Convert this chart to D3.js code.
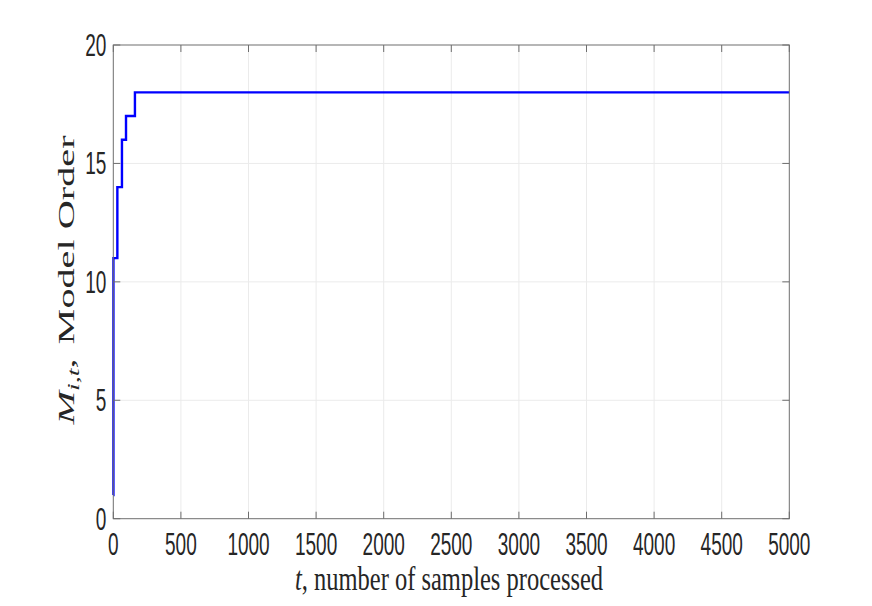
<!DOCTYPE html>
<html><head><meta charset="utf-8">
<script src="https://cdn.jsdelivr.net/npm/d3@7"></script>
<style>body{margin:0;background:#fff}svg{display:block}</style>
</head><body>
<script>
// Data
const tValues = [0, 1, 30, 64, 94, 160, 5000];
const orderValues = [1, 11, 14, 16, 17, 18, 18];
const xTicks = [0,500,1000,1500,2000,2500,3000,3500,4000,4500,5000];
const yTicks = [0,5,10,15,20];

const W = 872, H = 606;
const L = 113.3, R = 789.3, T = 45, B = 518.7;
const svg = d3.select("body").append("svg").attr("width", W).attr("height", H);
const x = d3.scaleLinear().domain([0,5000]).range([L,R]);
const y = d3.scaleLinear().domain([0,20]).range([B,T]);
const sY = 1.65;

// grid
svg.append("g").selectAll("line").data(xTicks.slice(1,-1)).join("line")
  .attr("x1", d=>x(d)).attr("x2", d=>x(d)).attr("y1", T).attr("y2", B)
  .attr("stroke", "#ebebeb").attr("stroke-width", 1);
svg.append("g").selectAll("line").data(yTicks.slice(1,-1)).join("line")
  .attr("y1", d=>y(d)).attr("y2", d=>y(d)).attr("x1", L).attr("x2", R)
  .attr("stroke", "#ebebeb").attr("stroke-width", 1);

// data line
const line = d3.line().x((d,i)=>x(tValues[i])).y(d=>y(d)).curve(d3.curveStepAfter);
svg.append("path").datum(orderValues).attr("d", line)
  .attr("fill","none").attr("stroke","#0000ff").attr("stroke-width",2.4);

// box and ticks
const ax = svg.append("g").attr("stroke","#6e6e6e").attr("stroke-width",1).attr("fill","none");
ax.append("rect").attr("x",L).attr("y",T).attr("width",R-L).attr("height",B-T);
const tl = 7;
xTicks.forEach(d=>{
  ax.append("line").attr("x1",x(d)).attr("x2",x(d)).attr("y1",B).attr("y2",B-tl);
  ax.append("line").attr("x1",x(d)).attr("x2",x(d)).attr("y1",T).attr("y2",T+tl);
});
yTicks.forEach(d=>{
  ax.append("line").attr("y1",y(d)).attr("y2",y(d)).attr("x1",L).attr("x2",L+tl);
  ax.append("line").attr("y1",y(d)).attr("y2",y(d)).attr("x1",R).attr("x2",R-tl);
});

// tick labels
const tickFont = "'Liberation Sans', Arial, sans-serif";
svg.append("g").selectAll("text").data(xTicks).join("text")
  .attr("transform", d=>`translate(${x(d)},555) scale(1,${sY})`)
  .attr("text-anchor","middle").attr("font-family",tickFont).attr("font-size",19)
  .attr("fill","#262626").text(d=>d);
svg.append("g").selectAll("text").data(yTicks).join("text")
  .attr("transform", d=>`translate(${L-7},${y(d)+11}) scale(1,${sY})`)
  .attr("text-anchor","end").attr("font-family",tickFont).attr("font-size",19)
  .attr("fill","#262626").text(d=>d);

// x label
const serif = "'Liberation Serif', 'Times New Roman', serif";
const xl = svg.append("text").attr("transform",`translate(449,590) scale(1,1.38)`)
  .attr("text-anchor","middle").attr("font-family",serif).attr("font-size",24.5).attr("fill","#262626");
xl.append("tspan").attr("font-style","italic").text("t");
xl.append("tspan").text(", number of samples processed");

// y label
const yl = svg.append("text").attr("transform",`translate(74,280) scale(1,1.75) rotate(-90)`)
  .attr("text-anchor","middle").attr("font-family",serif).attr("font-size",23).attr("fill","#262626");
yl.append("tspan").attr("font-style","italic").text("M");
yl.append("tspan").attr("font-style","italic").attr("font-size",16).attr("dy",5).text("i,t");
yl.append("tspan").attr("dy",-5).text(",");
yl.append("tspan").attr("dx",8).text("Model Order");
</script>
</body></html>
